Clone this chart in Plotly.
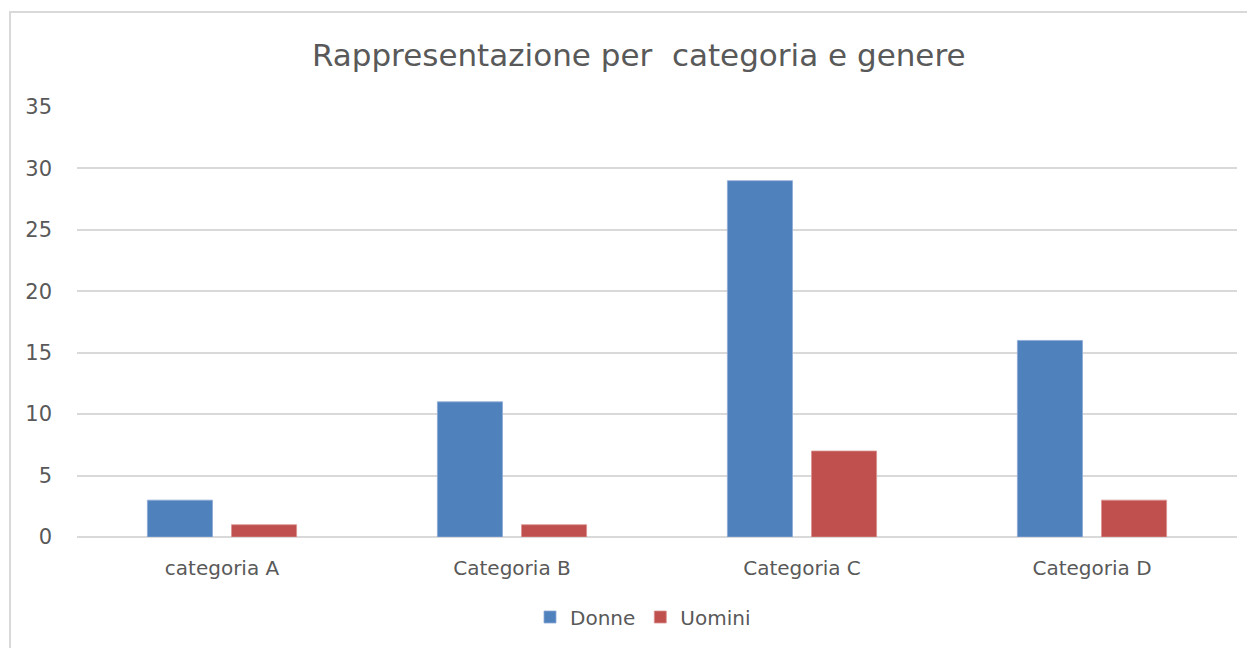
import plotly.graph_objects as go

categories = ["categoria A", "Categoria B", "Categoria C", "Categoria D"]
donne = [3, 11, 29, 16]
uomini = [1, 1, 7, 3]
y_ticks = [0, 5, 10, 15, 20, 25, 30, 35]

FONT = "DejaVu Sans"
TXT = "#595959"

fig = go.Figure()
fig.add_trace(go.Bar(name="Donne", x=categories, y=donne,
                     marker=dict(color="#4F81BD", line=dict(color="#8eaad6", width=0.8))))
fig.add_trace(go.Bar(name="Uomini", x=categories, y=uomini,
                     marker=dict(color="#C0504D", line=dict(color="#d99391", width=0.8))))

W, H = 1255, 648
O = 8  # page body offset
# target page coordinates
PL, PR, PT, PB = 77, 1237, 107, 537
L = PL - O
T = PT - O
R = W - (PR - O)
B = H - (PB - O)
pw, ph = W - L - R, H - T - B

def py(page_y):
    return (PB - page_y) / ph

def px(page_x):
    return (page_x - PL) / pw

fig.update_layout(
    width=W, height=H,
    margin=dict(l=L, r=R, t=T, b=B, pad=0),
    paper_bgcolor="white", plot_bgcolor="white",
    barmode="group", bargap=0.42, bargroupgap=0.226,
    font=dict(family=FONT, color=TXT, size=17),
    title=dict(text="Rappresentazione per&nbsp; categoria e genere", x=0.5 + 3 / pw, xanchor="center",
               y=1 - (55 - O) / H, yanchor="middle", font=dict(size=31, color=TXT, family=FONT)),
    legend=dict(orientation="h", x=0.5 - 14 / pw, xanchor="center", y=py(617), yanchor="middle",
                font=dict(size=20, color=TXT, family=FONT), itemwidth=30, traceorder="normal"),
    xaxis=dict(showgrid=False, showline=False, ticks="", tickfont=dict(size=20, color=TXT),
               ticklabelstandoff=17),
    yaxis=dict(range=[0, 35], tickvals=y_ticks, showgrid=True, gridcolor="#d9d9d9", gridwidth=2,
               zeroline=True, zerolinecolor="#d9d9d9", zerolinewidth=2, showline=False, ticks="",
               tickfont=dict(size=21, color=TXT), ticklabelstandoff=24),
    shapes=[dict(type="rect", xref="paper", yref="paper",
                 x0=px(10), x1=px(W + 40), y0=py(H + 40), y1=py(12),
                 line=dict(color="#d9d9d9", width=2), fillcolor="rgba(0,0,0,0)", layer="below")],
)

fig.write_html("out.html")
